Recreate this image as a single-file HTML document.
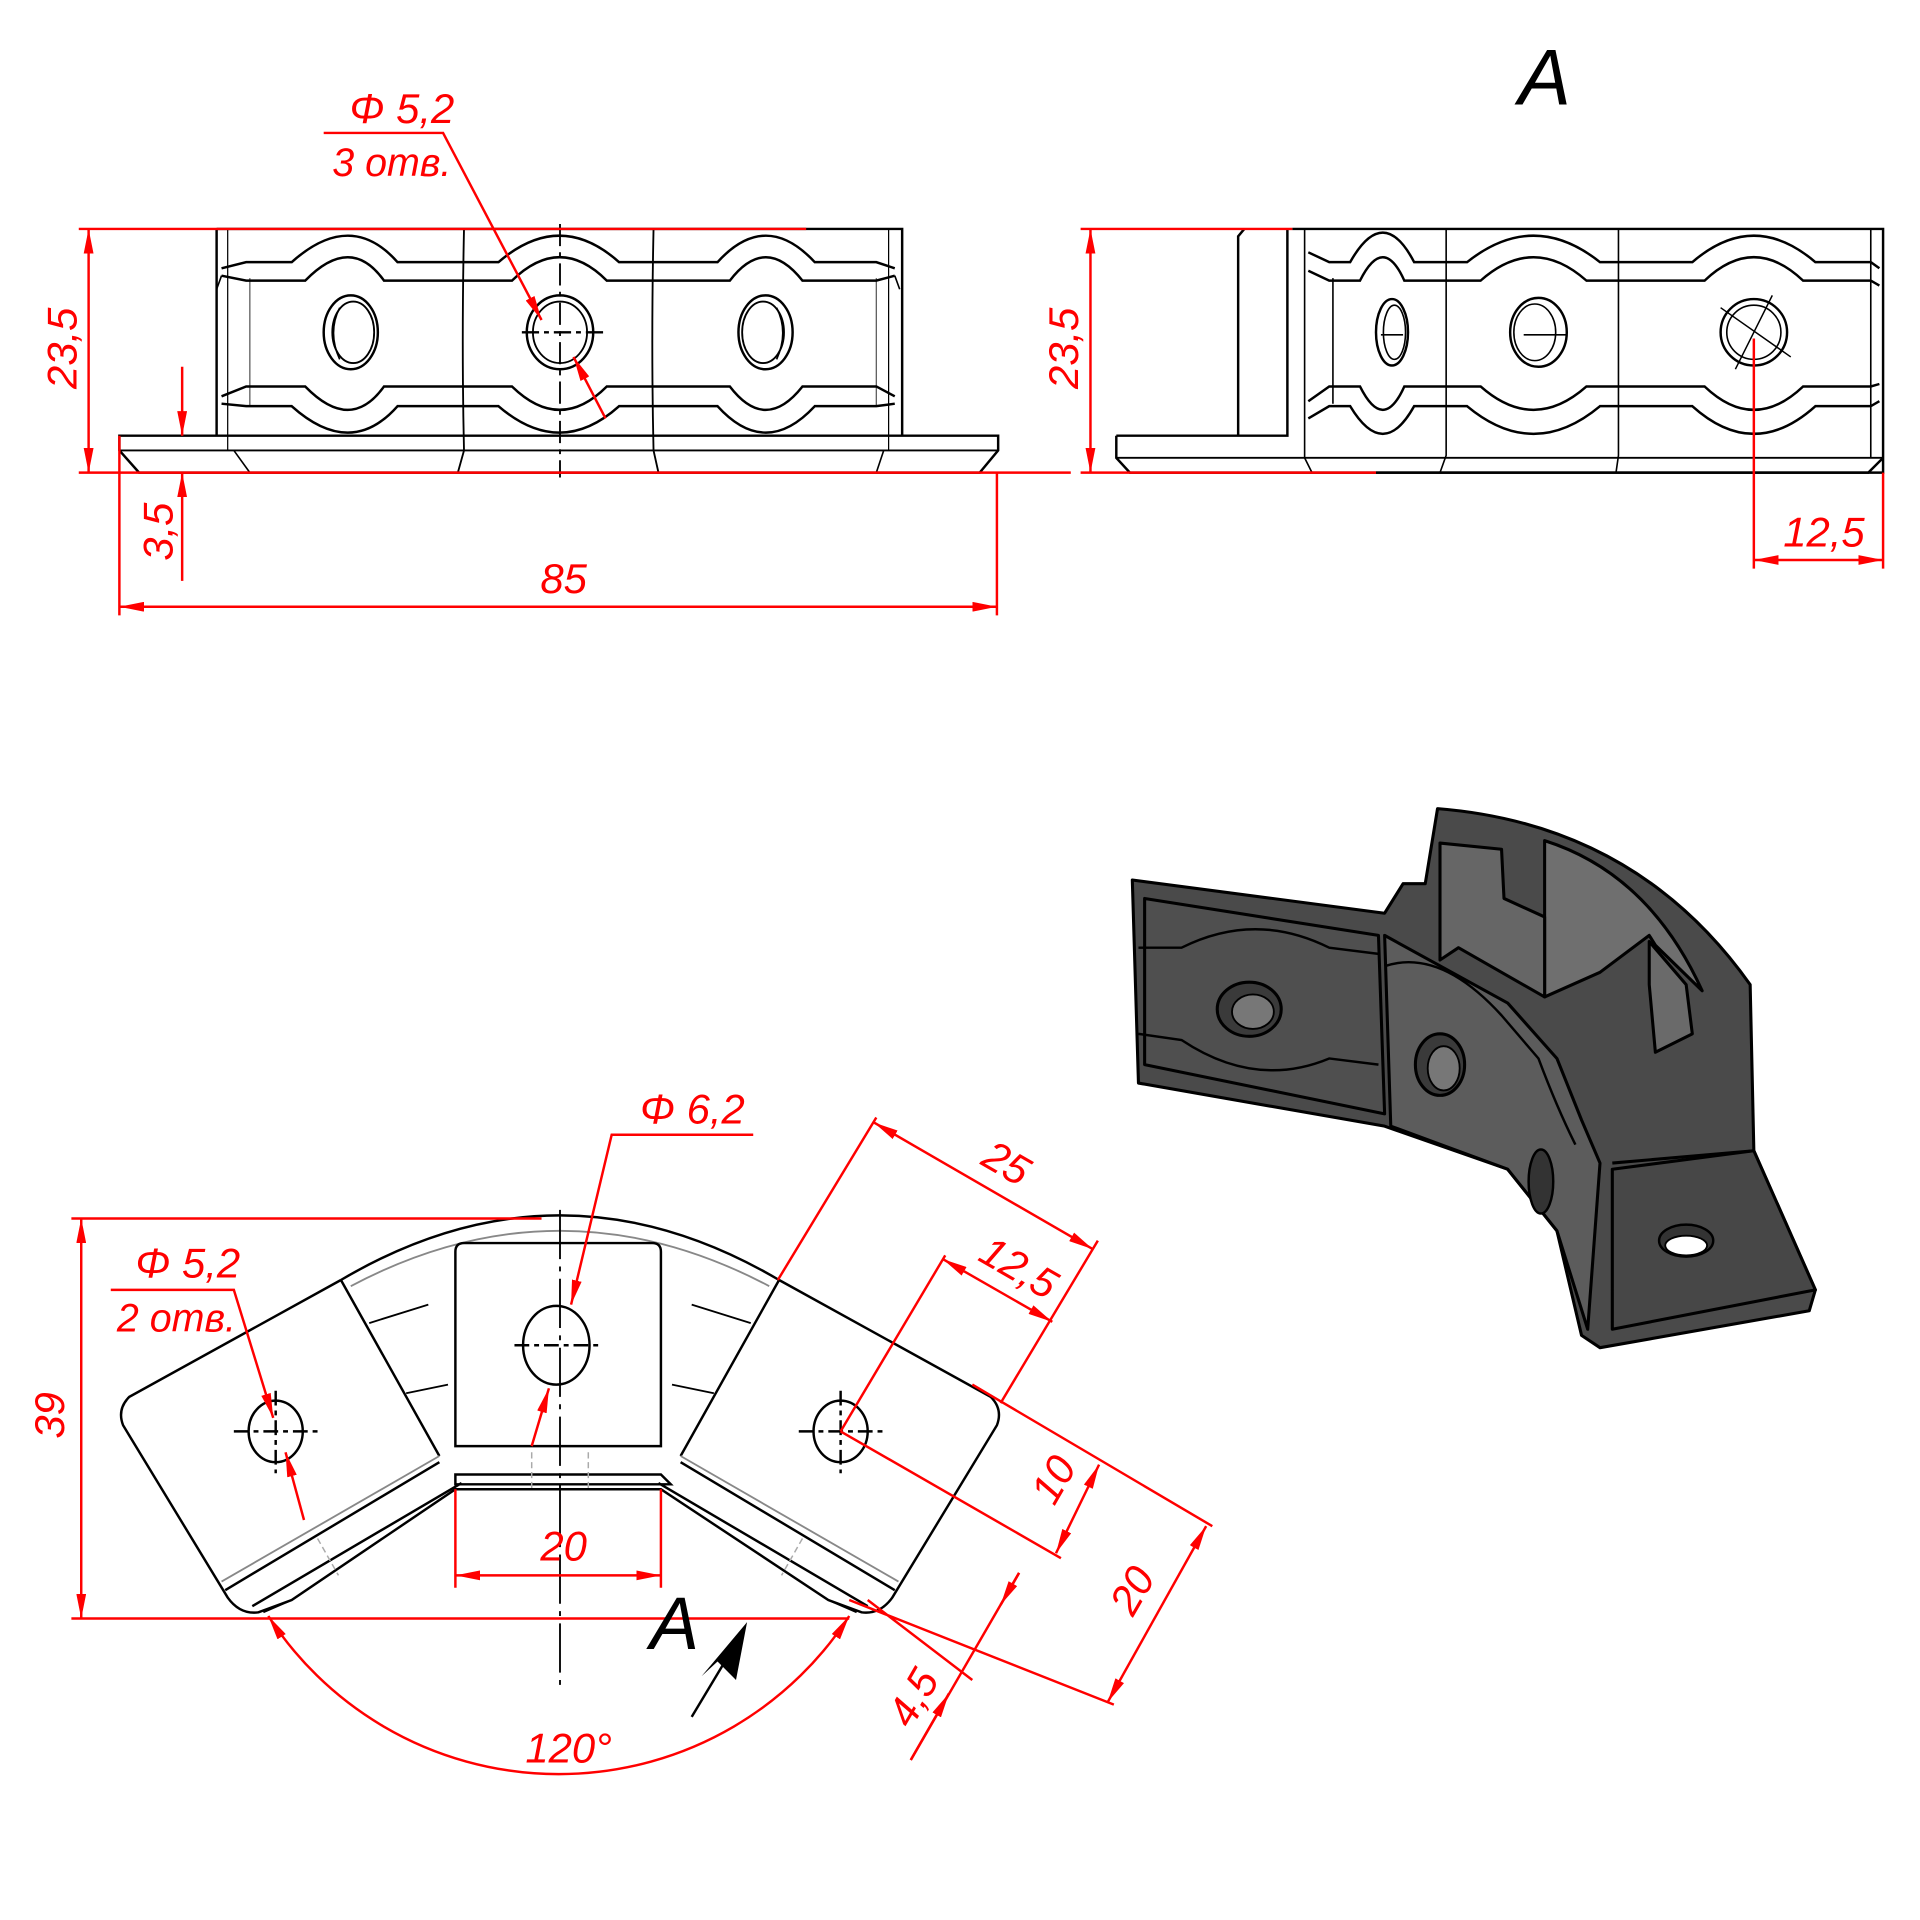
<!DOCTYPE html>
<html><head><meta charset="utf-8"><style>html,body{margin:0;padding:0;background:#fff}svg{display:block}</style></head>
<body>
<svg width="1920" height="1920" viewBox="0 0 1560 1560" xmlns="http://www.w3.org/2000/svg">
<defs>
<marker id="ar" viewBox="0 0 20 8" refX="20" refY="4" markerWidth="20" markerHeight="8" markerUnits="userSpaceOnUse" orient="auto-start-reverse"><path d="M0,0 L20,4 L0,8 Z" fill="#f00"/></marker>
</defs>
<rect width="1560" height="1560" fill="#fff"/>

<!-- ===== TOP LEFT VIEW ===== -->
<g fill="none" stroke="#000" stroke-width="2">
  <path d="M176,186 H733 V354"/>
  <path d="M176,186 V354"/>
  <path d="M97,354 H811 V366 L796,384 H113 L97,366 Z"/>
  <path d="M97,366 H811" stroke-width="1.5"/>
  <path d="M185,186 V366 M722,186 V366" stroke-width="1"/>
  <path d="M203,226 V330 M712,226 V330" stroke-width="1" stroke="#555"/>
  <path d="M377,186 Q375,280 377,366 L372,384 M531,186 Q529,280 531,366 L535,384" stroke-width="1.5"/>
  <path d="M190,366 L203,384 M718,366 L712,384" stroke-width="1.3"/>
  <path d="M180,218 L200,213 H237 Q285,170 323,213 H405 Q455,170 503,213 H583 Q622,170 662,213 H712 L727,218"/>
  <path d="M180,224 L200,228 H248 Q285,190 312,228 H416 Q455,190 493,228 H593 Q622,190 652,228 H712 L727,224"/>
  <path d="M180,224 L176,235 M727,224 L731,235" stroke-width="1.3"/>
  <path d="M180,322 L200,314 H248 Q285,352 312,314 H416 Q455,352 493,314 H593 Q622,352 652,314 H712 L727,322"/>
  <path d="M180,328 L200,330 H237 Q285,373 323,330 H405 Q455,373 503,330 H583 Q622,373 662,330 H712 L727,328"/>
  <ellipse cx="285" cy="270" rx="22" ry="30"/>
  <ellipse cx="287" cy="270" rx="17" ry="25" stroke-width="1.5"/>
  <path d="M276,250 Q266,270 276,292" stroke-width="1.3"/>
  <ellipse cx="455" cy="270" rx="27" ry="30"/>
  <ellipse cx="455" cy="270" rx="22" ry="25" stroke-width="1.5"/>
  <ellipse cx="622" cy="270" rx="22" ry="30"/>
  <ellipse cx="620" cy="270" rx="17" ry="25" stroke-width="1.5"/>
  <path d="M631,250 Q641,270 631,292" stroke-width="1.3"/>
  <path d="M455,182 V388" stroke-dasharray="18,5,4,5" stroke-width="1.5"/>
  <path d="M424,270 H490" stroke-dasharray="14,4,4,4" stroke-width="2"/>
</g>
<g stroke="#f00" stroke-width="2" fill="none">
  <path d="M64,186 H655 M64,384 H870"/>
  <path d="M72,186 V384" marker-start="url(#ar)" marker-end="url(#ar)"/>
  <path d="M148,298 V354" marker-end="url(#ar)"/>
  <path d="M148,472 V384" marker-end="url(#ar)"/>
  <path d="M97,354 V500 M810,384 V500"/>
  <path d="M97,493 H810" marker-start="url(#ar)" marker-end="url(#ar)"/>
  <path d="M263,108 H360 L440,260" marker-end="url(#ar)"/>
  <path d="M492,340 L466,290" marker-end="url(#ar)"/>
</g>
<g fill="#f00" font-family="Liberation Sans, DejaVu Sans, sans-serif" font-style="italic" font-size="34">
  <text transform="translate(62,283) rotate(-90)" text-anchor="middle">23,5</text>
  <text transform="translate(140,432) rotate(-90)" text-anchor="middle">3,5</text>
  <text x="458" y="482" text-anchor="middle">85</text>
  <text x="284" y="100">Φ 5,2</text>
  <text x="270" y="143" font-size="32">3 отв.</text>
</g>

<!-- ===== TOP RIGHT VIEW ===== -->
<text x="1255" y="85" font-family="Liberation Sans, sans-serif" font-style="italic" font-size="64" text-anchor="middle" fill="#000">A</text>
<g fill="none" stroke="#000" stroke-width="2">
  <path d="M1050,186 H1530 V384 H1118"/>
  <path d="M907,354 H1046 V186 M1011,186 L1006,192 V354"/>
  <path d="M907,354 V372 L918,384 H1118 M1530,372 L1518,384 H1118"/>
  <path d="M907,372 H1530" stroke-width="1.5"/>
  <path d="M1060,186 V372 M1520,186 V372 M1083,226 V328" stroke-width="1.3"/>
  <path d="M1175,186 V370 L1170,384 M1315,186 V370 L1313,384" stroke-width="1.3"/>
  <path d="M1060,372 L1066,384" stroke-width="1.3"/>
  <path d="M1063,205 L1080,213 H1097 Q1124,165 1149,213 H1192 Q1246,170 1300,213 H1375 Q1425,170 1475,213 H1520 L1527,218"/>
  <path d="M1063,220 L1080,228 H1105 Q1124,190 1141,228 H1203 Q1246,190 1289,228 H1385 Q1425,190 1465,228 H1520 L1527,232"/>
  <path d="M1063,326 L1080,314 H1105 Q1124,352 1141,314 H1203 Q1246,352 1289,314 H1385 Q1425,352 1465,314 H1520 L1527,312"/>
  <path d="M1063,340 L1080,330 H1097 Q1124,375 1149,330 H1192 Q1246,375 1300,330 H1375 Q1425,375 1475,330 H1520 L1527,326"/>
  <ellipse cx="1131" cy="270" rx="13" ry="27"/>
  <ellipse cx="1133" cy="270" rx="9" ry="22" stroke-width="1.3"/>
  <path d="M1122,272 H1140" stroke-width="1.3"/>
  <ellipse cx="1250" cy="270" rx="23" ry="28"/>
  <ellipse cx="1247" cy="270" rx="17" ry="23" stroke-width="1.3"/>
  <path d="M1238,272 H1273" stroke-width="1.3"/>
  <circle cx="1425" cy="270" r="27"/>
  <circle cx="1425" cy="270" r="22" stroke-width="1.3"/>
  <path d="M1398,250 L1455,290 M1440,240 L1410,300" stroke-width="1.2"/>
</g>
<g stroke="#f00" stroke-width="2" fill="none">
  <path d="M878,186 H1050 M878,384 H1118"/>
  <path d="M886,186 V384" marker-start="url(#ar)" marker-end="url(#ar)"/>
  <path d="M1425,275 V462 M1530,384 V462"/>
  <path d="M1425,455 H1530" marker-start="url(#ar)" marker-end="url(#ar)"/>
</g>
<g fill="#f00" font-family="Liberation Sans, sans-serif" font-style="italic" font-size="34">
  <text transform="translate(876,283) rotate(-90)" text-anchor="middle">23,5</text>
  <text x="1482" y="444" text-anchor="middle">12,5</text>
</g>

<!-- ===== BOTTOM VIEW ===== -->
<g fill="none" stroke="#000" stroke-width="2">
  <path d="M277,1040 Q455,935 633,1040"/>
  <path d="M285,1045 Q455,955 625,1045" stroke="#888" stroke-width="1.5"/>
  <path d="M277,1040 L105,1135 Q95,1145 100,1158 L185,1298 Q195,1312 210,1310 L237,1300 L370,1210 H537 L673,1300 L700,1310 Q715,1312 725,1298 L810,1158 Q815,1145 805,1135 L633,1040"/>
  <path d="M277,1040 L357,1183 M633,1040 L553,1183"/>
  <path d="M370,1175 V1017 Q370,1010 377,1010 H530 Q537,1010 537,1017 V1175 Z"/>
  <path d="M357,1183 L180,1285 M553,1183 L730,1285" stroke="#888" stroke-width="1.5"/>
  <path d="M357,1188 L183,1292 M553,1188 L727,1292"/>
  <path d="M370,1198 H537 L545,1206 L370,1206 Z"/>
  <path d="M375,1205 L205,1305 M535,1205 L705,1305"/>
  <path d="M300,1075 L348,1060 M610,1075 L562,1060 M330,1132 L364,1125 M580,1132 L546,1125" stroke-width="1.5"/>
  <path d="M237,1300 L214,1310 M673,1300 L696,1310" stroke-width="1.5"/>
  <path d="M432,1180 V1212 M478,1180 V1212 M258,1250 L275,1280 M652,1250 L635,1280" stroke="#aaa" stroke-width="1.2" stroke-dasharray="5,3"/>
  <ellipse cx="452" cy="1093" rx="27" ry="32"/>
  <ellipse cx="224" cy="1163" rx="22" ry="25"/>
  <ellipse cx="683" cy="1163" rx="22" ry="25"/>
  <path d="M418,1093 H488 M190,1163 H258 M224,1130 V1197 M649,1163 H717 M683,1130 V1197" stroke-dasharray="12,4,4,4"/>
  <path d="M455,983 V1372" stroke-width="1.5" stroke-dasharray="40,6,4,6"/>
</g>
<g stroke="#f00" stroke-width="2" fill="none">
  <path d="M58,990 H440 M58,1315 H690"/>
  <path d="M66,990 V1315" marker-start="url(#ar)" marker-end="url(#ar)"/>
  <path d="M90,1048 H190 L222,1152" marker-end="url(#ar)"/>
  <path d="M247,1235 L232,1180" marker-end="url(#ar)"/>
  <path d="M612,922 H497 L464,1060" marker-end="url(#ar)"/>
  <path d="M432,1175 L446,1128" marker-end="url(#ar)"/>
  <path d="M370,1210 V1290 M537,1210 V1290"/>
  <path d="M370,1280 H537" marker-start="url(#ar)" marker-end="url(#ar)"/>
  <path d="M218,1313 A281,281 0 0 0 690,1313" marker-start="url(#ar)" marker-end="url(#ar)"/>
  <path d="M632,1040 L712,908 M813,1140 L892,1008"/>
  <path d="M710,912 L888,1015" marker-start="url(#ar)" marker-end="url(#ar)"/>
  <path d="M683,1163 L768,1020"/>
  <path d="M766,1023 L855,1074" marker-start="url(#ar)" marker-end="url(#ar)"/>
  <path d="M683,1163 L862,1266 M790,1125 L985,1240"/>
  <path d="M893,1190 L858,1262" marker-start="url(#ar)" marker-end="url(#ar)"/>
  <path d="M690,1300 L905,1385 M705,1300 L790,1365"/>
  <path d="M980,1240 L900,1383" marker-start="url(#ar)" marker-end="url(#ar)"/>
  <path d="M828,1278 L740,1430"/>
  <path d="M828,1278 L813,1304" marker-end="url(#ar)"/>
  <path d="M740,1430 L771,1376" marker-end="url(#ar)"/>
</g>
<g fill="#f00" font-family="Liberation Sans, sans-serif" font-style="italic" font-size="34">
  <text transform="translate(52,1150) rotate(-90)" text-anchor="middle">39</text>
  <text x="110" y="1038">Φ 5,2</text>
  <text x="95" y="1082" font-size="32">2 отв.</text>
  <text x="520" y="913">Φ 6,2</text>
  <text x="458" y="1268" text-anchor="middle">20</text>
  <text x="462" y="1432" text-anchor="middle">120°</text>
  <text transform="translate(812,955) rotate(30)" text-anchor="middle">25</text>
  <text transform="translate(822,1040) rotate(30)" text-anchor="middle">12,5</text>
  <text transform="translate(866,1208) rotate(-60)" text-anchor="middle">10</text>
  <text transform="translate(930,1298) rotate(-60)" text-anchor="middle">20</text>
  <text transform="translate(752,1385) rotate(-60)" text-anchor="middle">4,5</text>
</g>
<text x="548" y="1340" font-family="Liberation Sans, sans-serif" font-style="italic" font-size="60" text-anchor="middle" fill="#000">A</text>
<path d="M562,1395 L592,1345" stroke="#000" stroke-width="2"/>
<path d="M607,1318 L598,1365 L583,1350 L570,1362 Z" fill="#000"/>

<!-- ===== 3D VIEW ===== -->
<g stroke="#000" stroke-width="2.5" stroke-linejoin="round">
  <path d="M920,715 L1125,742 L1140,718 L1158,718 L1168,657 Q1330,670 1422,800 L1425,935 L1475,1048 L1470,1065 L1300,1095 L1285,1085 L1265,1000 L1225,950 L1125,915 L925,880 Z" fill="#4a4a4a"/>
  <path d="M1255,683 L1255,810 L1300,790 L1340,760 L1345,768 L1383,805 Q1340,710 1255,683 Z" fill="#6f6f6f"/>
  <path d="M1170,685 L1220,690 L1222,730 L1255,745 L1255,810 L1185,770 L1170,780 Z" fill="#666"/>
  <path d="M1340,765 L1370,800 L1375,840 L1345,855 L1340,800 Z" fill="#6a6a6a"/>
  <path d="M1125,760 L1225,815 L1265,860 L1285,910 L1300,945 L1290,1080 L1265,1000 L1225,950 L1130,915 Z" fill="#5c5c5c"/>
  <path d="M1310,950 L1425,935 L1475,1048 L1310,1080 Z" fill="#474747"/>
  <path d="M930,730 L1120,760 L1125,905 L930,865 Z" fill="#4f4f4f"/>
  <path d="M1310,945 L1425,935" fill="none"/>
</g>
<g fill="none" stroke="#000" stroke-width="2">
  <path d="M925,770 L960,770 Q1020,740 1080,770 L1120,775"/>
  <path d="M925,840 L960,845 Q1020,885 1080,860 L1120,865"/>
  <path d="M1125,785 Q1170,770 1220,825 L1250,860 Q1265,900 1280,930"/>
</g>
<ellipse cx="1015" cy="820" rx="26" ry="22" fill="#3a3a3a" stroke="#000" stroke-width="2.5"/>
<ellipse cx="1018" cy="822" rx="17" ry="14" fill="#777" stroke="#000" stroke-width="1.5"/>
<ellipse cx="1170" cy="865" rx="20" ry="25" fill="#3a3a3a" stroke="#000" stroke-width="2.5"/>
<ellipse cx="1173" cy="868" rx="13" ry="18" fill="#777" stroke="#000" stroke-width="1.5"/>
<ellipse cx="1252" cy="960" rx="10" ry="26" fill="#333" stroke="#000" stroke-width="2"/>
<ellipse cx="1370" cy="1008" rx="22" ry="13" fill="#333" stroke="#000" stroke-width="2"/>
<ellipse cx="1370" cy="1012" rx="17" ry="8" fill="#fff" stroke="#000" stroke-width="1.5"/>
</svg>
</body></html>
